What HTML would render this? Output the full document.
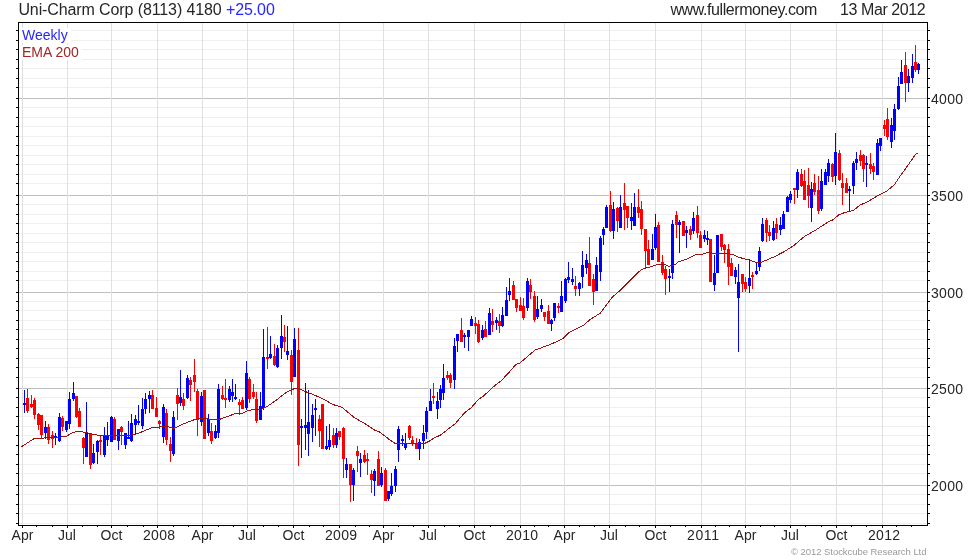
<!DOCTYPE html><html><head><meta charset="utf-8"><title>Uni-Charm Corp (8113)</title>
<style>html,body{margin:0;padding:0;background:#fff}body{width:980px;height:560px;overflow:hidden;position:relative;font-family:"Liberation Sans",sans-serif}svg{position:absolute;left:0;top:0;display:block;will-change:transform}text{font-family:"Liberation Sans",sans-serif}</style></head><body>
<svg width="980" height="560" viewBox="0 0 980 560">
<rect width="980" height="560" fill="#fff"/>
<g shape-rendering="crispEdges">
<rect x="19" y="30" width="907" height="1" fill="#efefef"/>
<rect x="19" y="40" width="907" height="1" fill="#efefef"/>
<rect x="19" y="49" width="907" height="1" fill="#efefef"/>
<rect x="19" y="59" width="907" height="1" fill="#efefef"/>
<rect x="19" y="68" width="907" height="1" fill="#efefef"/>
<rect x="19" y="78" width="907" height="1" fill="#efefef"/>
<rect x="19" y="87" width="907" height="1" fill="#efefef"/>
<rect x="19" y="107" width="907" height="1" fill="#efefef"/>
<rect x="19" y="117" width="907" height="1" fill="#efefef"/>
<rect x="19" y="126" width="907" height="1" fill="#efefef"/>
<rect x="19" y="136" width="907" height="1" fill="#efefef"/>
<rect x="19" y="145" width="907" height="1" fill="#efefef"/>
<rect x="19" y="155" width="907" height="1" fill="#efefef"/>
<rect x="19" y="164" width="907" height="1" fill="#efefef"/>
<rect x="19" y="174" width="907" height="1" fill="#efefef"/>
<rect x="19" y="183" width="907" height="1" fill="#efefef"/>
<rect x="19" y="204" width="907" height="1" fill="#efefef"/>
<rect x="19" y="214" width="907" height="1" fill="#efefef"/>
<rect x="19" y="223" width="907" height="1" fill="#efefef"/>
<rect x="19" y="233" width="907" height="1" fill="#efefef"/>
<rect x="19" y="242" width="907" height="1" fill="#efefef"/>
<rect x="19" y="252" width="907" height="1" fill="#efefef"/>
<rect x="19" y="261" width="907" height="1" fill="#efefef"/>
<rect x="19" y="271" width="907" height="1" fill="#efefef"/>
<rect x="19" y="280" width="907" height="1" fill="#efefef"/>
<rect x="19" y="301" width="907" height="1" fill="#efefef"/>
<rect x="19" y="310" width="907" height="1" fill="#efefef"/>
<rect x="19" y="320" width="907" height="1" fill="#efefef"/>
<rect x="19" y="329" width="907" height="1" fill="#efefef"/>
<rect x="19" y="339" width="907" height="1" fill="#efefef"/>
<rect x="19" y="348" width="907" height="1" fill="#efefef"/>
<rect x="19" y="358" width="907" height="1" fill="#efefef"/>
<rect x="19" y="367" width="907" height="1" fill="#efefef"/>
<rect x="19" y="377" width="907" height="1" fill="#efefef"/>
<rect x="19" y="397" width="907" height="1" fill="#efefef"/>
<rect x="19" y="407" width="907" height="1" fill="#efefef"/>
<rect x="19" y="416" width="907" height="1" fill="#efefef"/>
<rect x="19" y="426" width="907" height="1" fill="#efefef"/>
<rect x="19" y="435" width="907" height="1" fill="#efefef"/>
<rect x="19" y="445" width="907" height="1" fill="#efefef"/>
<rect x="19" y="454" width="907" height="1" fill="#efefef"/>
<rect x="19" y="464" width="907" height="1" fill="#efefef"/>
<rect x="19" y="473" width="907" height="1" fill="#efefef"/>
<rect x="19" y="494" width="907" height="1" fill="#efefef"/>
<rect x="19" y="504" width="907" height="1" fill="#efefef"/>
<rect x="19" y="513" width="907" height="1" fill="#efefef"/>
<rect x="19" y="523" width="907" height="1" fill="#efefef"/>
<rect x="19" y="485" width="908" height="1" fill="#c0c0c0"/>
<rect x="19" y="388" width="908" height="1" fill="#c0c0c0"/>
<rect x="19" y="292" width="908" height="1" fill="#c0c0c0"/>
<rect x="19" y="195" width="908" height="1" fill="#c0c0c0"/>
<rect x="19" y="98" width="908" height="1" fill="#c0c0c0"/>
<rect x="22" y="23" width="1" height="502" fill="#e0e0e0"/>
<rect x="67" y="23" width="1" height="502" fill="#e0e0e0"/>
<rect x="111" y="23" width="1" height="502" fill="#e0e0e0"/>
<rect x="157" y="23" width="1" height="502" fill="#e0e0e0"/>
<rect x="202" y="23" width="1" height="502" fill="#e0e0e0"/>
<rect x="247" y="23" width="1" height="502" fill="#e0e0e0"/>
<rect x="293" y="23" width="1" height="502" fill="#e0e0e0"/>
<rect x="339" y="23" width="1" height="502" fill="#e0e0e0"/>
<rect x="383" y="23" width="1" height="502" fill="#e0e0e0"/>
<rect x="428" y="23" width="1" height="502" fill="#e0e0e0"/>
<rect x="474" y="23" width="1" height="502" fill="#e0e0e0"/>
<rect x="520" y="23" width="1" height="502" fill="#e0e0e0"/>
<rect x="564" y="23" width="1" height="502" fill="#e0e0e0"/>
<rect x="609" y="23" width="1" height="502" fill="#e0e0e0"/>
<rect x="655" y="23" width="1" height="502" fill="#e0e0e0"/>
<rect x="701" y="23" width="1" height="502" fill="#e0e0e0"/>
<rect x="745" y="23" width="1" height="502" fill="#e0e0e0"/>
<rect x="790" y="23" width="1" height="502" fill="#e0e0e0"/>
<rect x="836" y="23" width="1" height="502" fill="#e0e0e0"/>
<rect x="882" y="23" width="1" height="502" fill="#e0e0e0"/>
</g>
<g shape-rendering="crispEdges">
<path fill="#00f" d="M24 390h1v23h-1zM23 403h3v2h-3z"/>
<path fill="#f00" d="M27 389h1v24h-1zM26 398h3v13h-3z"/>
<path fill="#f00" d="M31 395h1v13h-1zM30 404h3v3h-3z"/>
<path fill="#f00" d="M34 398h1v21h-1zM33 400h3v15h-3z"/>
<path fill="#f00" d="M38 413h1v17h-1zM37 414h3v11h-3z"/>
<path fill="#f00" d="M41 415h1v23h-1zM40 415h3v20h-3z"/>
<path fill="#00f" d="M45 421h1v18h-1zM44 427h3v6h-3z"/>
<path fill="#f00" d="M48 424h1v20h-1zM47 427h3v13h-3z"/>
<path fill="#f00" d="M52 431h1v17h-1zM51 435h3v4h-3z"/>
<path fill="#00f" d="M55 433h1v12h-1zM54 436h3v2h-3z"/>
<path fill="#00f" d="M59 413h1v29h-1zM58 417h3v24h-3z"/>
<path fill="#f00" d="M62 416h1v15h-1zM61 418h3v9h-3z"/>
<path fill="#00f" d="M66 421h1v11h-1zM65 421h3v9h-3z"/>
<path fill="#00f" d="M69 392h1v37h-1zM68 399h3v25h-3z"/>
<path fill="#00f" d="M73 382h1v19h-1zM72 393h3v6h-3z"/>
<path fill="#f00" d="M76 396h1v22h-1zM75 396h3v21h-3z"/>
<path fill="#f00" d="M79 408h1v19h-1zM78 411h3v16h-3z"/>
<path fill="#f00" d="M83 437h1v27h-1zM82 438h3v10h-3z"/>
<path fill="#00f" d="M86 402h1v55h-1zM85 432h3v25h-3z"/>
<path fill="#f00" d="M90 433h1v36h-1zM89 433h3v32h-3z"/>
<path fill="#00f" d="M93 444h1v20h-1zM92 453h3v10h-3z"/>
<path fill="#00f" d="M97 440h1v24h-1zM96 441h3v11h-3z"/>
<path fill="#f00" d="M100 436h1v19h-1zM99 440h3v2h-3z"/>
<path fill="#00f" d="M104 427h1v30h-1zM103 435h3v20h-3z"/>
<path fill="#00f" d="M107 422h1v24h-1zM106 435h3v5h-3z"/>
<path fill="#00f" d="M111 416h1v26h-1zM110 417h3v25h-3z"/>
<path fill="#f00" d="M114 417h1v23h-1zM113 419h3v21h-3z"/>
<path fill="#00f" d="M118 429h1v21h-1zM117 429h3v12h-3z"/>
<path fill="#f00" d="M121 426h1v19h-1zM120 427h3v5h-3z"/>
<path fill="#00f" d="M125 433h1v16h-1zM124 433h3v12h-3z"/>
<path fill="#00f" d="M128 421h1v18h-1zM127 437h3v2h-3z"/>
<path fill="#00f" d="M131 414h1v28h-1zM130 423h3v18h-3z"/>
<path fill="#00f" d="M135 415h1v19h-1zM134 419h3v6h-3z"/>
<path fill="#00f" d="M138 405h1v20h-1zM137 421h3v2h-3z"/>
<path fill="#00f" d="M142 398h1v31h-1zM141 409h3v17h-3z"/>
<path fill="#00f" d="M145 393h1v21h-1zM144 399h3v10h-3z"/>
<path fill="#00f" d="M149 391h1v22h-1zM148 395h3v4h-3z"/>
<path fill="#f00" d="M152 390h1v19h-1zM151 395h3v14h-3z"/>
<path fill="#f00" d="M156 397h1v20h-1zM155 408h3v9h-3z"/>
<path fill="#f00" d="M159 420h1v9h-1zM158 421h3v3h-3z"/>
<path fill="#00f" d="M163 404h1v39h-1zM162 407h3v30h-3z"/>
<path fill="#f00" d="M166 409h1v36h-1zM165 413h3v27h-3z"/>
<path fill="#f00" d="M170 437h1v25h-1zM169 444h3v7h-3z"/>
<path fill="#00f" d="M173 411h1v45h-1zM172 417h3v37h-3z"/>
<path fill="#f00" d="M177 388h1v32h-1zM176 395h3v9h-3z"/>
<path fill="#00f" d="M180 370h1v36h-1zM179 397h3v6h-3z"/>
<path fill="#f00" d="M183 393h1v17h-1zM182 399h3v7h-3z"/>
<path fill="#00f" d="M187 375h1v24h-1zM186 378h3v20h-3z"/>
<path fill="#f00" d="M190 377h1v24h-1zM189 380h3v5h-3z"/>
<path fill="#f00" d="M194 359h1v33h-1zM193 375h3v7h-3z"/>
<path fill="#f00" d="M197 389h1v47h-1zM196 391h3v29h-3z"/>
<path fill="#00f" d="M201 392h1v34h-1zM200 396h3v26h-3z"/>
<path fill="#f00" d="M204 390h1v49h-1zM203 390h3v49h-3z"/>
<path fill="#00f" d="M208 414h1v22h-1zM207 419h3v14h-3z"/>
<path fill="#f00" d="M211 423h1v21h-1zM210 431h3v10h-3z"/>
<path fill="#00f" d="M215 425h1v14h-1zM214 431h3v7h-3z"/>
<path fill="#00f" d="M218 384h1v54h-1zM217 389h3v44h-3z"/>
<path fill="#f00" d="M222 386h1v14h-1zM221 395h3v4h-3z"/>
<path fill="#f00" d="M225 379h1v29h-1zM224 398h3v2h-3z"/>
<path fill="#00f" d="M229 386h1v16h-1zM228 389h3v11h-3z"/>
<path fill="#00f" d="M232 379h1v23h-1zM231 392h3v4h-3z"/>
<path fill="#00f" d="M235 384h1v16h-1zM234 397h3v2h-3z"/>
<path fill="#f00" d="M239 399h1v16h-1zM238 402h3v3h-3z"/>
<path fill="#f00" d="M242 397h1v12h-1zM241 400h3v9h-3z"/>
<path fill="#00f" d="M246 361h1v49h-1zM245 373h3v35h-3z"/>
<path fill="#f00" d="M249 377h1v26h-1zM248 379h3v20h-3z"/>
<path fill="#f00" d="M253 384h1v15h-1zM252 392h3v5h-3z"/>
<path fill="#f00" d="M256 392h1v31h-1zM255 399h3v22h-3z"/>
<path fill="#00f" d="M260 392h1v28h-1zM259 406h3v14h-3z"/>
<path fill="#00f" d="M263 329h1v81h-1zM262 357h3v51h-3z"/>
<path fill="#f00" d="M267 327h1v42h-1zM266 357h3v2h-3z"/>
<path fill="#00f" d="M270 336h1v23h-1zM269 354h3v4h-3z"/>
<path fill="#f00" d="M274 344h1v22h-1zM273 356h3v9h-3z"/>
<path fill="#00f" d="M277 345h1v23h-1zM276 348h3v19h-3z"/>
<path fill="#00f" d="M281 315h1v44h-1zM280 336h3v12h-3z"/>
<path fill="#f00" d="M284 325h1v27h-1zM283 337h3v5h-3z"/>
<path fill="#00f" d="M287 326h1v34h-1zM286 351h3v4h-3z"/>
<path fill="#f00" d="M291 350h1v45h-1zM290 355h3v27h-3z"/>
<path fill="#00f" d="M294 328h1v49h-1zM293 339h3v38h-3z"/>
<path fill="#f00" d="M298 328h1v138h-1zM297 350h3v95h-3z"/>
<path fill="#00f" d="M301 419h1v39h-1zM300 426h3v2h-3z"/>
<path fill="#00f" d="M305 383h1v67h-1zM304 425h3v3h-3z"/>
<path fill="#00f" d="M308 390h1v66h-1zM307 422h3v12h-3z"/>
<path fill="#00f" d="M312 404h1v38h-1zM311 415h3v13h-3z"/>
<path fill="#00f" d="M315 399h1v37h-1zM314 408h3v2h-3z"/>
<path fill="#f00" d="M319 415h1v32h-1zM318 419h3v12h-3z"/>
<path fill="#f00" d="M322 404h1v45h-1zM321 404h3v45h-3z"/>
<path fill="#00f" d="M326 426h1v24h-1zM325 446h3v3h-3z"/>
<path fill="#00f" d="M329 424h1v26h-1zM328 440h3v7h-3z"/>
<path fill="#f00" d="M333 428h1v20h-1zM332 435h3v10h-3z"/>
<path fill="#00f" d="M336 428h1v20h-1zM335 433h3v12h-3z"/>
<path fill="#f00" d="M339 431h1v9h-1zM338 431h3v6h-3z"/>
<path fill="#f00" d="M343 427h1v51h-1zM342 428h3v31h-3z"/>
<path fill="#00f" d="M346 458h1v20h-1zM345 464h3v6h-3z"/>
<path fill="#f00" d="M350 464h1v38h-1zM349 464h3v21h-3z"/>
<path fill="#00f" d="M353 468h1v33h-1zM352 470h3v15h-3z"/>
<path fill="#f00" d="M357 446h1v26h-1zM356 451h3v5h-3z"/>
<path fill="#00f" d="M360 453h1v24h-1zM359 459h3v4h-3z"/>
<path fill="#f00" d="M364 450h1v13h-1zM363 455h3v7h-3z"/>
<path fill="#f00" d="M367 453h1v22h-1zM366 459h3v2h-3z"/>
<path fill="#f00" d="M371 470h1v23h-1zM370 474h3v6h-3z"/>
<path fill="#00f" d="M374 469h1v27h-1zM373 471h3v10h-3z"/>
<path fill="#f00" d="M378 451h1v35h-1zM377 459h3v27h-3z"/>
<path fill="#00f" d="M381 467h1v20h-1zM380 473h3v12h-3z"/>
<path fill="#f00" d="M385 468h1v33h-1zM384 470h3v31h-3z"/>
<path fill="#00f" d="M388 491h1v10h-1zM387 491h3v8h-3z"/>
<path fill="#00f" d="M391 473h1v23h-1zM390 486h3v8h-3z"/>
<path fill="#00f" d="M395 466h1v26h-1zM394 469h3v17h-3z"/>
<path fill="#00f" d="M398 426h1v36h-1zM397 429h3v21h-3z"/>
<path fill="#00f" d="M402 435h1v11h-1zM401 439h3v2h-3z"/>
<path fill="#00f" d="M405 433h1v17h-1zM404 444h3v4h-3z"/>
<path fill="#f00" d="M409 425h1v15h-1zM408 426h3v12h-3z"/>
<path fill="#f00" d="M412 436h1v10h-1zM411 440h3v3h-3z"/>
<path fill="#f00" d="M416 438h1v11h-1zM415 444h3v5h-3z"/>
<path fill="#00f" d="M419 439h1v21h-1zM418 442h3v7h-3z"/>
<path fill="#00f" d="M423 425h1v24h-1zM422 433h3v8h-3z"/>
<path fill="#00f" d="M426 407h1v32h-1zM425 411h3v21h-3z"/>
<path fill="#00f" d="M430 389h1v22h-1zM429 401h3v10h-3z"/>
<path fill="#f00" d="M433 383h1v21h-1zM432 396h3v2h-3z"/>
<path fill="#00f" d="M437 392h1v27h-1zM436 401h3v8h-3z"/>
<path fill="#00f" d="M440 385h1v23h-1zM439 389h3v11h-3z"/>
<path fill="#00f" d="M443 364h1v36h-1zM442 378h3v15h-3z"/>
<path fill="#f00" d="M447 371h1v9h-1zM446 375h3v3h-3z"/>
<path fill="#f00" d="M450 373h1v15h-1zM449 375h3v8h-3z"/>
<path fill="#00f" d="M454 338h1v51h-1zM453 346h3v34h-3z"/>
<path fill="#00f" d="M457 334h1v18h-1zM456 334h3v7h-3z"/>
<path fill="#f00" d="M461 318h1v24h-1zM460 330h3v12h-3z"/>
<path fill="#00f" d="M464 333h1v15h-1zM463 335h3v2h-3z"/>
<path fill="#00f" d="M468 330h1v21h-1zM467 330h3v7h-3z"/>
<path fill="#00f" d="M471 316h1v10h-1zM470 319h3v7h-3z"/>
<path fill="#f00" d="M475 317h1v17h-1zM474 323h3v3h-3z"/>
<path fill="#f00" d="M478 320h1v23h-1zM477 324h3v18h-3z"/>
<path fill="#00f" d="M482 325h1v15h-1zM481 330h3v8h-3z"/>
<path fill="#f00" d="M485 321h1v16h-1zM484 329h3v8h-3z"/>
<path fill="#00f" d="M489 308h1v27h-1zM488 313h3v22h-3z"/>
<path fill="#f00" d="M492 309h1v23h-1zM491 321h3v4h-3z"/>
<path fill="#00f" d="M496 317h1v13h-1zM495 320h3v3h-3z"/>
<path fill="#f00" d="M499 314h1v19h-1zM498 321h3v5h-3z"/>
<path fill="#00f" d="M502 307h1v20h-1zM501 315h3v11h-3z"/>
<path fill="#00f" d="M506 287h1v29h-1zM505 300h3v16h-3z"/>
<path fill="#00f" d="M509 278h1v23h-1zM508 291h3v4h-3z"/>
<path fill="#f00" d="M513 281h1v19h-1zM512 285h3v15h-3z"/>
<path fill="#f00" d="M516 299h1v13h-1zM515 299h3v9h-3z"/>
<path fill="#f00" d="M520 297h1v14h-1zM519 305h3v6h-3z"/>
<path fill="#f00" d="M523 298h1v22h-1zM522 306h3v12h-3z"/>
<path fill="#00f" d="M527 278h1v33h-1zM526 281h3v27h-3z"/>
<path fill="#f00" d="M530 279h1v20h-1zM529 285h3v7h-3z"/>
<path fill="#f00" d="M534 291h1v31h-1zM533 296h3v24h-3z"/>
<path fill="#00f" d="M537 296h1v23h-1zM536 309h3v8h-3z"/>
<path fill="#00f" d="M541 299h1v13h-1zM540 305h3v4h-3z"/>
<path fill="#f00" d="M544 312h1v9h-1zM543 312h3v5h-3z"/>
<path fill="#f00" d="M548 305h1v19h-1zM547 311h3v13h-3z"/>
<path fill="#00f" d="M551 319h1v12h-1zM550 320h3v4h-3z"/>
<path fill="#00f" d="M554 303h1v18h-1zM553 303h3v15h-3z"/>
<path fill="#f00" d="M558 303h1v10h-1zM557 306h3v2h-3z"/>
<path fill="#00f" d="M561 281h1v31h-1zM560 296h3v16h-3z"/>
<path fill="#00f" d="M565 278h1v25h-1zM564 279h3v22h-3z"/>
<path fill="#00f" d="M568 262h1v21h-1zM567 277h3v3h-3z"/>
<path fill="#00f" d="M572 268h1v17h-1zM571 279h3v3h-3z"/>
<path fill="#f00" d="M575 276h1v20h-1zM574 286h3v3h-3z"/>
<path fill="#00f" d="M579 282h1v14h-1zM578 283h3v6h-3z"/>
<path fill="#00f" d="M582 251h1v37h-1zM581 265h3v12h-3z"/>
<path fill="#00f" d="M586 254h1v20h-1zM585 260h3v8h-3z"/>
<path fill="#f00" d="M589 237h1v49h-1zM588 263h3v23h-3z"/>
<path fill="#f00" d="M593 274h1v31h-1zM592 279h3v13h-3z"/>
<path fill="#00f" d="M596 257h1v34h-1zM595 265h3v26h-3z"/>
<path fill="#00f" d="M600 236h1v45h-1zM599 238h3v34h-3z"/>
<path fill="#00f" d="M603 227h1v18h-1zM602 229h3v6h-3z"/>
<path fill="#00f" d="M606 205h1v23h-1zM605 207h3v21h-3z"/>
<path fill="#f00" d="M610 191h1v41h-1zM609 205h3v26h-3z"/>
<path fill="#00f" d="M613 202h1v37h-1zM612 209h3v22h-3z"/>
<path fill="#f00" d="M617 207h1v25h-1zM616 208h3v13h-3z"/>
<path fill="#00f" d="M620 195h1v33h-1zM619 207h3v21h-3z"/>
<path fill="#f00" d="M624 183h1v47h-1zM623 203h3v7h-3z"/>
<path fill="#f00" d="M627 206h1v22h-1zM626 206h3v12h-3z"/>
<path fill="#00f" d="M631 203h1v27h-1zM630 217h3v4h-3z"/>
<path fill="#00f" d="M634 193h1v33h-1zM633 207h3v19h-3z"/>
<path fill="#f00" d="M638 189h1v29h-1zM637 207h3v6h-3z"/>
<path fill="#f00" d="M641 201h1v34h-1zM640 209h3v20h-3z"/>
<path fill="#f00" d="M645 229h1v39h-1zM644 229h3v22h-3z"/>
<path fill="#f00" d="M648 240h1v25h-1zM647 249h3v16h-3z"/>
<path fill="#00f" d="M652 234h1v26h-1zM651 249h3v11h-3z"/>
<path fill="#00f" d="M655 214h1v36h-1zM654 227h3v21h-3z"/>
<path fill="#f00" d="M658 222h1v40h-1zM657 225h3v37h-3z"/>
<path fill="#f00" d="M662 255h1v20h-1zM661 262h3v11h-3z"/>
<path fill="#f00" d="M665 266h1v29h-1zM664 269h3v10h-3z"/>
<path fill="#00f" d="M669 269h1v23h-1zM668 276h3v2h-3z"/>
<path fill="#00f" d="M672 220h1v59h-1zM671 224h3v49h-3z"/>
<path fill="#f00" d="M676 211h1v27h-1zM675 215h3v10h-3z"/>
<path fill="#00f" d="M679 220h1v33h-1zM678 222h3v3h-3z"/>
<path fill="#f00" d="M683 221h1v15h-1zM682 221h3v15h-3z"/>
<path fill="#00f" d="M686 226h1v22h-1zM685 230h3v3h-3z"/>
<path fill="#f00" d="M690 226h1v14h-1zM689 229h3v6h-3z"/>
<path fill="#00f" d="M693 212h1v22h-1zM692 218h3v13h-3z"/>
<path fill="#f00" d="M697 206h1v32h-1zM696 215h3v18h-3z"/>
<path fill="#f00" d="M700 231h1v17h-1zM699 235h3v13h-3z"/>
<path fill="#00f" d="M704 230h1v12h-1zM703 235h3v4h-3z"/>
<path fill="#00f" d="M707 231h1v14h-1zM706 238h3v2h-3z"/>
<path fill="#f00" d="M710 239h1v43h-1zM709 239h3v43h-3z"/>
<path fill="#00f" d="M714 255h1v36h-1zM713 273h3v12h-3z"/>
<path fill="#00f" d="M717 235h1v38h-1zM716 235h3v38h-3z"/>
<path fill="#f00" d="M721 234h1v17h-1zM720 234h3v13h-3z"/>
<path fill="#f00" d="M724 244h1v19h-1zM723 245h3v5h-3z"/>
<path fill="#f00" d="M728 244h1v41h-1zM727 249h3v18h-3z"/>
<path fill="#f00" d="M731 258h1v18h-1zM730 263h3v13h-3z"/>
<path fill="#00f" d="M735 267h1v17h-1zM734 270h3v7h-3z"/>
<path fill="#00f" d="M738 264h1v88h-1zM737 282h3v16h-3z"/>
<path fill="#f00" d="M742 274h1v18h-1zM741 274h3v10h-3z"/>
<path fill="#f00" d="M745 277h1v15h-1zM744 282h3v7h-3z"/>
<path fill="#00f" d="M749 259h1v34h-1zM748 278h3v8h-3z"/>
<path fill="#f00" d="M752 272h1v17h-1zM751 275h3v2h-3z"/>
<path fill="#00f" d="M756 263h1v12h-1zM755 271h3v3h-3z"/>
<path fill="#00f" d="M759 247h1v24h-1zM758 251h3v16h-3z"/>
<path fill="#00f" d="M762 218h1v24h-1zM761 224h3v17h-3z"/>
<path fill="#f00" d="M766 218h1v24h-1zM765 220h3v13h-3z"/>
<path fill="#f00" d="M769 225h1v16h-1zM768 232h3v4h-3z"/>
<path fill="#00f" d="M773 221h1v20h-1zM772 228h3v12h-3z"/>
<path fill="#f00" d="M776 218h1v21h-1zM775 224h3v9h-3z"/>
<path fill="#00f" d="M780 217h1v18h-1zM779 225h3v5h-3z"/>
<path fill="#00f" d="M783 211h1v18h-1zM782 214h3v15h-3z"/>
<path fill="#00f" d="M787 196h1v16h-1zM786 197h3v15h-3z"/>
<path fill="#00f" d="M790 191h1v12h-1zM789 194h3v6h-3z"/>
<path fill="#f00" d="M794 188h1v16h-1zM793 188h3v2h-3z"/>
<path fill="#00f" d="M797 169h1v29h-1zM796 172h3v18h-3z"/>
<path fill="#f00" d="M801 169h1v18h-1zM800 174h3v12h-3z"/>
<path fill="#f00" d="M804 170h1v30h-1zM803 181h3v19h-3z"/>
<path fill="#f00" d="M808 168h1v40h-1zM807 185h3v11h-3z"/>
<path fill="#00f" d="M811 182h1v40h-1zM810 189h3v19h-3z"/>
<path fill="#f00" d="M814 174h1v21h-1zM813 183h3v9h-3z"/>
<path fill="#f00" d="M818 176h1v38h-1zM817 190h3v21h-3z"/>
<path fill="#00f" d="M821 169h1v42h-1zM820 181h3v28h-3z"/>
<path fill="#00f" d="M825 169h1v16h-1zM824 172h3v13h-3z"/>
<path fill="#00f" d="M828 159h1v23h-1zM827 163h3v13h-3z"/>
<path fill="#f00" d="M832 163h1v19h-1zM831 164h3v13h-3z"/>
<path fill="#00f" d="M835 133h1v52h-1zM834 152h3v24h-3z"/>
<path fill="#f00" d="M839 150h1v31h-1zM838 153h3v27h-3z"/>
<path fill="#f00" d="M842 173h1v32h-1zM841 183h3v5h-3z"/>
<path fill="#f00" d="M846 178h1v15h-1zM845 183h3v10h-3z"/>
<path fill="#00f" d="M849 186h1v25h-1zM848 189h3v2h-3z"/>
<path fill="#00f" d="M853 161h1v33h-1zM852 163h3v23h-3z"/>
<path fill="#00f" d="M856 152h1v18h-1zM855 159h3v4h-3z"/>
<path fill="#f00" d="M860 150h1v16h-1zM859 155h3v6h-3z"/>
<path fill="#f00" d="M863 154h1v28h-1zM862 155h3v14h-3z"/>
<path fill="#00f" d="M866 156h1v31h-1zM865 163h3v2h-3z"/>
<path fill="#f00" d="M870 153h1v21h-1zM869 164h3v5h-3z"/>
<path fill="#f00" d="M873 163h1v17h-1zM872 166h3v6h-3z"/>
<path fill="#00f" d="M877 139h1v36h-1zM876 143h3v32h-3z"/>
<path fill="#00f" d="M880 138h1v13h-1zM879 138h3v8h-3z"/>
<path fill="#f00" d="M884 120h1v16h-1zM883 125h3v4h-3z"/>
<path fill="#f00" d="M887 108h1v32h-1zM886 119h3v18h-3z"/>
<path fill="#00f" d="M891 118h1v30h-1zM890 125h3v17h-3z"/>
<path fill="#00f" d="M894 104h1v36h-1zM893 109h3v22h-3z"/>
<path fill="#00f" d="M898 77h1v33h-1zM897 86h3v23h-3z"/>
<path fill="#00f" d="M901 60h1v24h-1zM900 72h3v12h-3z"/>
<path fill="#f00" d="M905 52h1v50h-1zM904 65h3v18h-3z"/>
<path fill="#00f" d="M908 69h1v23h-1zM907 76h3v7h-3z"/>
<path fill="#00f" d="M912 54h1v29h-1zM911 66h3v12h-3z"/>
<path fill="#f00" d="M915 45h1v27h-1zM914 62h3v8h-3z"/>
<path fill="#00f" d="M918 63h1v11h-1zM917 64h3v6h-3z"/>
</g>
<polyline fill="none" stroke="#9b1010" stroke-width="1" shape-rendering="crispEdges" points="21.3,446.8 34.3,438.5 43.3,438.5 44.3,437.5 57.0,437.5 66.0,436.4 73.2,432.3 79.3,431.3 86.4,432.6 95.6,434.9 104.8,435.6 114.5,435.4 128.4,435.5 136.5,434.0 152.9,427.4 161.0,426.9 168.2,426.9 173.8,428.4 181.4,424.8 194.7,419.5 199.8,418.5 205.0,418.2 210.1,419.5 219.3,419.5 226.9,416.6 235.6,413.6 242.8,413.1 247.9,410.7 253.0,409.7 261.1,409.5 266.2,407.1 275.4,400.8 286.6,392.1 294.8,388.4 297.9,388.4 305.0,391.4 314.3,395.0 323.5,399.1 332.6,404.4 341.8,407.2 354.1,417.4 365.3,423.9 375.5,430.7 378.6,431.2 389.8,439.9 394.9,443.2 400.0,443.5 424.6,443.4 428.7,441.5 435.0,437.5 439.9,435.4 446.0,430.8 455.2,423.7 465.4,411.9 470.5,408.4 478.7,399.2 482.8,396.6 494.5,385.9 501.6,380.3 507.8,373.7 515.9,364.5 520.0,363.0 521.5,361.6 535.3,349.9 549.6,344.8 562.9,338.7 569.0,332.6 583.3,325.4 590.4,319.3 600.5,313.0 612.8,296.6 618.9,291.5 630.1,280.3 641.3,269.5 648.5,267.4 658.7,264.1 663.8,264.3 668.9,266.3 675.0,264.8 678.3,261.8 687.4,258.8 695.6,254.7 702.8,254.2 707.9,252.3 716.0,253.7 725.2,253.2 733.4,254.7 738.5,257.2 749.7,260.3 755.8,262.3 760.9,262.3 765.0,260.8 775.0,256.4 784.6,251.4 793.8,245.5 804.0,236.8 816.2,229.7 828.5,221.7 832.5,220.0 839.2,214.5 845.3,212.4 853.5,210.4 859.6,205.3 867.8,201.7 878.0,195.6 886.1,191.5 894.3,184.9 901.4,174.2 907.5,166.0 909.6,162.8 915.7,154.1 917.8,153.1"/>
<g shape-rendering="crispEdges" fill="#000">
<rect x="18" y="22" width="910" height="1"/>
<rect x="18" y="22" width="1" height="504"/>
<rect x="927" y="22" width="1" height="504"/>
<rect x="18" y="525" width="910" height="1"/>
<rect x="16" y="30" width="2" height="1"/>
<rect x="928" y="30" width="2" height="1"/>
<rect x="16" y="40" width="2" height="1"/>
<rect x="928" y="40" width="2" height="1"/>
<rect x="16" y="49" width="2" height="1"/>
<rect x="928" y="49" width="2" height="1"/>
<rect x="16" y="59" width="2" height="1"/>
<rect x="928" y="59" width="2" height="1"/>
<rect x="16" y="68" width="2" height="1"/>
<rect x="928" y="68" width="2" height="1"/>
<rect x="16" y="78" width="2" height="1"/>
<rect x="928" y="78" width="2" height="1"/>
<rect x="16" y="87" width="2" height="1"/>
<rect x="928" y="87" width="2" height="1"/>
<rect x="16" y="107" width="2" height="1"/>
<rect x="928" y="107" width="2" height="1"/>
<rect x="16" y="117" width="2" height="1"/>
<rect x="928" y="117" width="2" height="1"/>
<rect x="16" y="126" width="2" height="1"/>
<rect x="928" y="126" width="2" height="1"/>
<rect x="16" y="136" width="2" height="1"/>
<rect x="928" y="136" width="2" height="1"/>
<rect x="16" y="145" width="2" height="1"/>
<rect x="928" y="145" width="2" height="1"/>
<rect x="16" y="155" width="2" height="1"/>
<rect x="928" y="155" width="2" height="1"/>
<rect x="16" y="164" width="2" height="1"/>
<rect x="928" y="164" width="2" height="1"/>
<rect x="16" y="174" width="2" height="1"/>
<rect x="928" y="174" width="2" height="1"/>
<rect x="16" y="183" width="2" height="1"/>
<rect x="928" y="183" width="2" height="1"/>
<rect x="16" y="204" width="2" height="1"/>
<rect x="928" y="204" width="2" height="1"/>
<rect x="16" y="214" width="2" height="1"/>
<rect x="928" y="214" width="2" height="1"/>
<rect x="16" y="223" width="2" height="1"/>
<rect x="928" y="223" width="2" height="1"/>
<rect x="16" y="233" width="2" height="1"/>
<rect x="928" y="233" width="2" height="1"/>
<rect x="16" y="242" width="2" height="1"/>
<rect x="928" y="242" width="2" height="1"/>
<rect x="16" y="252" width="2" height="1"/>
<rect x="928" y="252" width="2" height="1"/>
<rect x="16" y="261" width="2" height="1"/>
<rect x="928" y="261" width="2" height="1"/>
<rect x="16" y="271" width="2" height="1"/>
<rect x="928" y="271" width="2" height="1"/>
<rect x="16" y="280" width="2" height="1"/>
<rect x="928" y="280" width="2" height="1"/>
<rect x="16" y="301" width="2" height="1"/>
<rect x="928" y="301" width="2" height="1"/>
<rect x="16" y="310" width="2" height="1"/>
<rect x="928" y="310" width="2" height="1"/>
<rect x="16" y="320" width="2" height="1"/>
<rect x="928" y="320" width="2" height="1"/>
<rect x="16" y="329" width="2" height="1"/>
<rect x="928" y="329" width="2" height="1"/>
<rect x="16" y="339" width="2" height="1"/>
<rect x="928" y="339" width="2" height="1"/>
<rect x="16" y="348" width="2" height="1"/>
<rect x="928" y="348" width="2" height="1"/>
<rect x="16" y="358" width="2" height="1"/>
<rect x="928" y="358" width="2" height="1"/>
<rect x="16" y="367" width="2" height="1"/>
<rect x="928" y="367" width="2" height="1"/>
<rect x="16" y="377" width="2" height="1"/>
<rect x="928" y="377" width="2" height="1"/>
<rect x="16" y="397" width="2" height="1"/>
<rect x="928" y="397" width="2" height="1"/>
<rect x="16" y="407" width="2" height="1"/>
<rect x="928" y="407" width="2" height="1"/>
<rect x="16" y="416" width="2" height="1"/>
<rect x="928" y="416" width="2" height="1"/>
<rect x="16" y="426" width="2" height="1"/>
<rect x="928" y="426" width="2" height="1"/>
<rect x="16" y="435" width="2" height="1"/>
<rect x="928" y="435" width="2" height="1"/>
<rect x="16" y="445" width="2" height="1"/>
<rect x="928" y="445" width="2" height="1"/>
<rect x="16" y="454" width="2" height="1"/>
<rect x="928" y="454" width="2" height="1"/>
<rect x="16" y="464" width="2" height="1"/>
<rect x="928" y="464" width="2" height="1"/>
<rect x="16" y="473" width="2" height="1"/>
<rect x="928" y="473" width="2" height="1"/>
<rect x="16" y="494" width="2" height="1"/>
<rect x="928" y="494" width="2" height="1"/>
<rect x="16" y="504" width="2" height="1"/>
<rect x="928" y="504" width="2" height="1"/>
<rect x="16" y="513" width="2" height="1"/>
<rect x="928" y="513" width="2" height="1"/>
<rect x="16" y="523" width="2" height="1"/>
<rect x="928" y="523" width="2" height="1"/>
<rect x="16" y="485" width="2" height="1"/>
<rect x="928" y="485" width="2" height="1"/>
<rect x="16" y="388" width="2" height="1"/>
<rect x="928" y="388" width="2" height="1"/>
<rect x="16" y="292" width="2" height="1"/>
<rect x="928" y="292" width="2" height="1"/>
<rect x="16" y="195" width="2" height="1"/>
<rect x="928" y="195" width="2" height="1"/>
<rect x="16" y="98" width="2" height="1"/>
<rect x="928" y="98" width="2" height="1"/>
<rect x="22" y="526" width="1" height="2"/>
<rect x="36" y="526" width="1" height="1"/>
<rect x="52" y="526" width="1" height="1"/>
<rect x="67" y="526" width="1" height="2"/>
<rect x="82" y="526" width="1" height="1"/>
<rect x="97" y="526" width="1" height="1"/>
<rect x="111" y="526" width="1" height="2"/>
<rect x="127" y="526" width="1" height="1"/>
<rect x="143" y="526" width="1" height="1"/>
<rect x="157" y="526" width="1" height="2"/>
<rect x="173" y="526" width="1" height="1"/>
<rect x="188" y="526" width="1" height="1"/>
<rect x="202" y="526" width="1" height="2"/>
<rect x="218" y="526" width="1" height="1"/>
<rect x="233" y="526" width="1" height="1"/>
<rect x="247" y="526" width="1" height="2"/>
<rect x="263" y="526" width="1" height="1"/>
<rect x="278" y="526" width="1" height="1"/>
<rect x="293" y="526" width="1" height="2"/>
<rect x="309" y="526" width="1" height="1"/>
<rect x="323" y="526" width="1" height="1"/>
<rect x="339" y="526" width="1" height="2"/>
<rect x="355" y="526" width="1" height="1"/>
<rect x="369" y="526" width="1" height="1"/>
<rect x="383" y="526" width="1" height="2"/>
<rect x="398" y="526" width="1" height="1"/>
<rect x="413" y="526" width="1" height="1"/>
<rect x="428" y="526" width="1" height="2"/>
<rect x="444" y="526" width="1" height="1"/>
<rect x="459" y="526" width="1" height="1"/>
<rect x="474" y="526" width="1" height="2"/>
<rect x="490" y="526" width="1" height="1"/>
<rect x="504" y="526" width="1" height="1"/>
<rect x="520" y="526" width="1" height="2"/>
<rect x="534" y="526" width="1" height="1"/>
<rect x="548" y="526" width="1" height="1"/>
<rect x="564" y="526" width="1" height="2"/>
<rect x="579" y="526" width="1" height="1"/>
<rect x="594" y="526" width="1" height="1"/>
<rect x="609" y="526" width="1" height="2"/>
<rect x="625" y="526" width="1" height="1"/>
<rect x="639" y="526" width="1" height="1"/>
<rect x="655" y="526" width="1" height="2"/>
<rect x="670" y="526" width="1" height="1"/>
<rect x="685" y="526" width="1" height="1"/>
<rect x="701" y="526" width="1" height="2"/>
<rect x="715" y="526" width="1" height="1"/>
<rect x="729" y="526" width="1" height="1"/>
<rect x="745" y="526" width="1" height="2"/>
<rect x="760" y="526" width="1" height="1"/>
<rect x="774" y="526" width="1" height="1"/>
<rect x="790" y="526" width="1" height="2"/>
<rect x="805" y="526" width="1" height="1"/>
<rect x="821" y="526" width="1" height="1"/>
<rect x="836" y="526" width="1" height="2"/>
<rect x="851" y="526" width="1" height="1"/>
<rect x="866" y="526" width="1" height="1"/>
<rect x="882" y="526" width="1" height="2"/>
<rect x="896" y="526" width="1" height="1"/>
<rect x="911" y="526" width="1" height="1"/>
</g>
<g font-size="14" fill="#262626">
<text x="931" y="491" textLength="32" lengthAdjust="spacing">2000</text>
<text x="931" y="394" textLength="32" lengthAdjust="spacing">2500</text>
<text x="931" y="298" textLength="32" lengthAdjust="spacing">3000</text>
<text x="931" y="201" textLength="32" lengthAdjust="spacing">3500</text>
<text x="931" y="104" textLength="32" lengthAdjust="spacing">4000</text>
<text x="22.5" y="540" text-anchor="middle">Apr</text>
<text x="67.0" y="540" text-anchor="middle">Jul</text>
<text x="111.5" y="540" text-anchor="middle">Oct</text>
<text x="159.0" y="540" text-anchor="middle" textLength="32" lengthAdjust="spacing">2008</text>
<text x="202.5" y="540" text-anchor="middle">Apr</text>
<text x="247.0" y="540" text-anchor="middle">Jul</text>
<text x="293.5" y="540" text-anchor="middle">Oct</text>
<text x="341.0" y="540" text-anchor="middle" textLength="32" lengthAdjust="spacing">2009</text>
<text x="383.5" y="540" text-anchor="middle">Apr</text>
<text x="428.0" y="540" text-anchor="middle">Jul</text>
<text x="474.5" y="540" text-anchor="middle">Oct</text>
<text x="522.0" y="540" text-anchor="middle" textLength="32" lengthAdjust="spacing">2010</text>
<text x="564.5" y="540" text-anchor="middle">Apr</text>
<text x="609.0" y="540" text-anchor="middle">Jul</text>
<text x="655.5" y="540" text-anchor="middle">Oct</text>
<text x="703.0" y="540" text-anchor="middle" textLength="32" lengthAdjust="spacing">2011</text>
<text x="745.5" y="540" text-anchor="middle">Apr</text>
<text x="790.0" y="540" text-anchor="middle">Jul</text>
<text x="836.5" y="540" text-anchor="middle">Oct</text>
<text x="884.0" y="540" text-anchor="middle" textLength="32" lengthAdjust="spacing">2012</text>
</g>
<text x="18.4" y="15" font-size="16" fill="#262626" textLength="256.4" lengthAdjust="spacing">Uni-Charm Corp (8113) 4180 <tspan fill="#2626ff">+25.00</tspan></text>
<text x="925.6" y="15" font-size="16" fill="#262626" text-anchor="end" textLength="85.5" lengthAdjust="spacing">13 Mar 2012</text>
<text x="817.4" y="15" font-size="16" fill="#262626" text-anchor="end" textLength="147" lengthAdjust="spacing">www.fullermoney.com</text>
<rect x="19" y="28" width="52" height="15" fill="#fff"/><rect x="19" y="45" width="63" height="15" fill="#fff"/>
<text x="22" y="40" font-size="14" fill="#2626ff">Weekly</text>
<text x="22" y="57" font-size="14" fill="#a32626">EMA 200</text>
<text x="926.5" y="555" font-size="9.5" fill="#999" text-anchor="end" textLength="135.5" lengthAdjust="spacing">© 2012 Stockcube Research Ltd</text>
</svg></body></html>
